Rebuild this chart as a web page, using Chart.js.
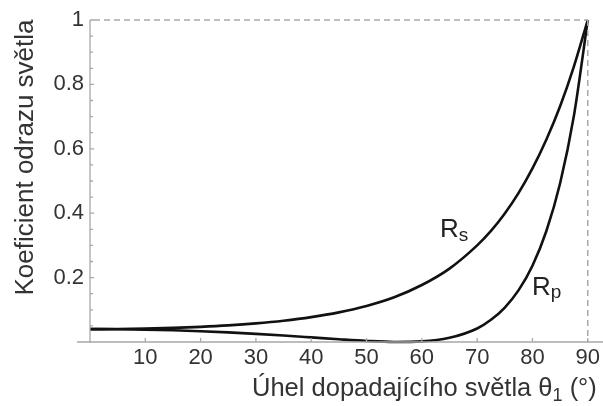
<!DOCTYPE html>
<html>
<head>
<meta charset="utf-8">
<script src="https://cdn.jsdelivr.net/npm/chart.js@4"></script>
<style>
  html, body { margin: 0; padding: 0; background: #fff; }
  #odraz { display: block; }
</style>
</head>
<body>
<canvas id="odraz" width="603" height="406"></canvas>
<script>
// uhel dopadu (stupne)
const uhly = [0, 5, 10, 15, 20, 25, 30, 35, 40, 45, 50, 55, 60, 65, 70, 72.5, 75, 77.5, 80, 82.5, 85, 87.5, 90];
// odrazivost pro s a p polarizaci
const rs = [0.040, 0.0404, 0.0417, 0.0438, 0.0471, 0.0516, 0.0578, 0.0661, 0.0772, 0.0920, 0.112, 0.139, 0.177, 0.228, 0.300, 0.345, 0.399, 0.463, 0.539, 0.628, 0.732, 0.856, 1];
const rp = [0.040, 0.0396, 0.0384, 0.0363, 0.0335, 0.0298, 0.0253, 0.0200, 0.0143, 0.0085, 0.0033, 0.0002, 0.0018, 0.013, 0.042, 0.069, 0.107, 0.161, 0.237, 0.344, 0.493, 0.703, 1];
const xTicks = [10, 20, 30, 40, 50, 60, 70, 80, 90];
const yTicks = [0.2, 0.4, 0.6, 0.8, 1];

const FONT = 'Arial, "Liberation Sans", sans-serif';
const SEDA = '#a8a8a8';

function body(x, y) {
    return x.map(function (v, i) { return { x: v, y: y[i] }; });
}

// osy, ramecek a popisky
const osyPlugin = {
    id: 'osy',
    afterDraw: function (chart) {
        const ctx = chart.ctx;
        const sx = chart.scales.x;
        const sy = chart.scales.y;
        const x0 = sx.getPixelForValue(0), x90 = sx.getPixelForValue(90);
        const y0 = sy.getPixelForValue(0), y1 = sy.getPixelForValue(1);
        ctx.save();

        // carkovany ramecek nahore a vpravo
        ctx.strokeStyle = SEDA;
        ctx.lineWidth = 1.5;
        ctx.setLineDash([6, 4]);
        ctx.beginPath();
        ctx.moveTo(x0 + 4, y1); ctx.lineTo(x90, y1);
        ctx.moveTo(x90, y1); ctx.lineTo(x90, y0);
        ctx.stroke();
        ctx.setLineDash([]);

        // osy
        ctx.lineWidth = 1.3;
        ctx.beginPath();
        ctx.moveTo(x0, y1); ctx.lineTo(x0, y0 + 1);
        ctx.moveTo(77, y0); ctx.lineTo(chart.width, y0);
        // znacky na ose y po 0.05
        for (let k = 1; k <= 20; k++) {
            const py = sy.getPixelForValue(k * 0.05);
            ctx.moveTo(x0, py); ctx.lineTo(x0 + (k % 4 === 0 ? 4 : 3), py);
        }
        // znacky na ose x
        xTicks.forEach(function (t) {
            const px = sx.getPixelForValue(t);
            ctx.moveTo(px, y0); ctx.lineTo(px, y0 - 4);
        });
        ctx.stroke();

        // popis osy y
        ctx.fillStyle = '#333';
        ctx.font = '26px ' + FONT;
        ctx.textAlign = 'center';
        ctx.textBaseline = 'alphabetic';
        ctx.save();
        ctx.translate(33, 157.5);
        ctx.rotate(-Math.PI / 2);
        ctx.fillText('Koeficient odrazu světla', 0, 0);
        ctx.restore();

        // popis osy x s dolnim indexem
        ctx.textAlign = 'left';
        let tx = 252;
        const ty = 396;
        ctx.font = '25.5px ' + FONT;
        const t1 = 'Úhel dopadajícího světla θ';
        ctx.fillText(t1, tx, ty);
        tx += ctx.measureText(t1).width;
        ctx.font = '18px ' + FONT;
        ctx.fillText('1', tx, ty + 5);
        tx += ctx.measureText('1').width;
        ctx.font = '25.5px ' + FONT;
        ctx.fillText(' (°)', tx, ty);

        // oznaceni krivek
        ctx.fillStyle = '#222';
        const popisky = [
            { text: 'R', sub: 's', x: 63.3, y: 0.326, dy: 4 },
            { text: 'R', sub: 'p', x: 79.9, y: 0.146, dy: 3 }
        ];
        popisky.forEach(function (p) {
            const px = sx.getPixelForValue(p.x);
            const py = sy.getPixelForValue(p.y);
            ctx.font = '26px ' + FONT;
            ctx.fillText(p.text, px, py);
            const w = ctx.measureText(p.text).width;
            ctx.font = '19px ' + FONT;
            ctx.fillText(p.sub, px + w, py + p.dy);
        });
        ctx.restore();
    }
};

const odraz = new Chart(document.getElementById('odraz'), {
    type: 'line',
    data: {
        datasets: [
            {
                label: 'Rs',
                data: body(uhly, rs),
                borderColor: '#111',
                borderWidth: 2.6,
                pointRadius: 0,
                fill: false,
                cubicInterpolationMode: 'monotone'
            },
            {
                label: 'Rp',
                data: body(uhly, rp),
                borderColor: '#111',
                borderWidth: 2.6,
                pointRadius: 0,
                fill: false,
                cubicInterpolationMode: 'monotone'
            }
        ]
    },
    options: {
        responsive: false,
        animation: false,
        clip: false,
        layout: { padding: { top: 20, right: 15, left: 0, bottom: 0 } },
        plugins: { legend: { display: false }, tooltip: { enabled: false } },
        scales: {
            x: {
                type: 'linear',
                min: 0,
                max: 90,
                grid: { display: false, drawTicks: false },
                border: { display: false },
                afterFit: function (s) { s.height = 64; },
                afterBuildTicks: function (s) { s.ticks = xTicks.map(function (v) { return { value: v }; }); },
                ticks: {
                    padding: 3,
                    maxRotation: 0,
                    color: '#333',
                    font: { family: FONT, size: 22 },
                    callback: function (v) { return String(v); }
                }
            },
            y: {
                type: 'linear',
                min: 0,
                max: 1,
                grid: { display: false, drawTicks: false },
                border: { display: false },
                afterFit: function (s) { s.width = 90; },
                afterBuildTicks: function (s) { s.ticks = yTicks.map(function (v) { return { value: v }; }); },
                ticks: {
                    padding: 6,
                    color: '#333',
                    font: { family: FONT, size: 22 },
                    callback: function (v) { return v === 1 ? '1' : v.toFixed(1); }
                }
            }
        }
    },
    plugins: [osyPlugin]
});
</script>
</body>
</html>
